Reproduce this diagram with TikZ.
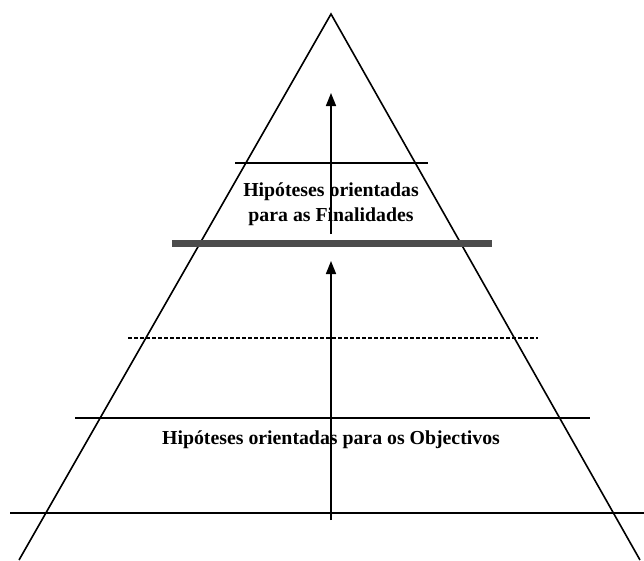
\documentclass[tikz,border=0pt]{standalone}
\usepackage{fontspec}
\setmainfont{Liberation Serif}
\usetikzlibrary{arrows.meta}
\begin{document}
\begin{tikzpicture}[x=1pt,y=-1pt,
  side/.style={line width=1.6pt},
  level/.style={line width=2pt},
  lbl/.style={font=\bfseries\fontsize{19.8}{25}\selectfont, align=center, inner sep=0pt},
  uparrow/.style={line width=1.6pt, -{Triangle[length=13pt,width=10pt]}}]
\useasboundingbox (0,0) rectangle (644,560);
% pyramid
\coordinate (apex) at (331,14);
\coordinate (bl) at (19,560);
\coordinate (br) at (640,560);
\draw[side] (bl) -- (apex) -- (br);
% levels
\draw[level] (10,513) -- (644,513);
\draw[level] (75,418) -- (590,418);
\draw[line width=1.8pt, dash pattern=on 4pt off 2pt] (128,338) -- (538,338);
\draw[line width=7pt, gray!60!black] (172,243) -- (492,243);
\draw[level] (235,163) -- (428,163);
% arrows
\coordinate (a1s) at (331,520);
\coordinate (a1e) at (331,261);
\coordinate (a2s) at (331,234);
\coordinate (a2e) at (331,93);
\draw[uparrow] (a1s) -- (a1e);
\draw[uparrow] (a2s) -- (a2e);
% labels
\node[lbl] (fin) at (331,204) {Hipóteses orientadas\\para as Finalidades};
\node[lbl] (obj) at (331,440) {Hipóteses orientadas para os Objectivos};
\end{tikzpicture}
\end{document}
